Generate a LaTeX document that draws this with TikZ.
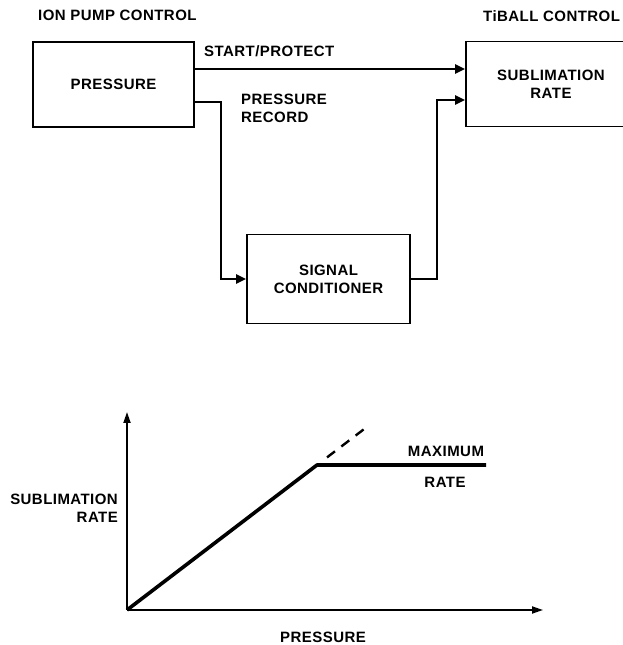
\documentclass[tikz,border=0pt]{standalone}
\usepackage{fontspec}
\setmainfont[LetterSpace=3]{Liberation Sans}
\usetikzlibrary{arrows.meta, positioning}

\begin{document}
\begin{tikzpicture}[x=1bp, y=1bp, >={Triangle[length=10bp, width=9bp]},
    font=\fontsize{15bp}{18bp}\selectfont\bfseries,
    block/.style={draw, line width=1.8bp, minimum width=161bp, minimum height=85bp, align=center, inner sep=0pt},
    wire/.style={->, line width=2.8bp},
    axis/.style={->, line width=1.8bp, >={Triangle[length=11bp, width=7bp]}},
    lbl/.style={inner sep=0pt, align=center}]
    \useasboundingbox (0,0) rectangle (623,645);

    % control loop
    \node[block] (p) at (113.5,560.5) {PRESSURE};
    \node[block, minimum width=170bp] (s) at (551,561) {SUBLIMATION\\RATE};
    \node[block, minimum width=163bp, minimum height=89bp] (c) at (328.5,366) {SIGNAL\\CONDITIONER};

    \node[lbl, anchor=west] (ipc) at (38,630) {ION PUMP CONTROL};
    \node[lbl, anchor=west] (tbc) at (483,629) {TiBALL CONTROL};
    \node[lbl, anchor=west] (sp) at (204,594) {START/PROTECT};
    \node[lbl, anchor=west, align=left] (pr) at (241,537) {PRESSURE\\RECORD};

    \draw[wire] ([yshift=15.5bp]p.east) -- ([yshift=15bp]s.west);
    \draw[wire] ([yshift=-17.5bp]p.east) -- ++(26,0) |- (c.west);
    \draw[wire] (c.east) -- ++(26,0) |- ([yshift=-16bp]s.west);

    % rate vs pressure
    \coordinate (o) at (127,35);
    \coordinate (ytop) at (127,233);
    \coordinate (xend) at (543,35);
    \coordinate (knee) at (317,180);
    \coordinate (plat) at (486,180);
    \coordinate (d1) at (327,187.6);
    \coordinate (d2) at (368,218.9);

    \draw[axis] (o) -- (ytop);
    \draw[axis] (o) -- (xend);
    \draw[line width=3.6bp, line join=round] (o) -- (knee) -- (plat);
    \draw[line width=2.4bp, dash pattern=on 10bp off 8bp] (d1) -- (d2);

    \node[lbl] (mx) at (446,194) {MAXIMUM};
    \node[lbl] (mr) at (445,163) {RATE};
    \node[lbl, anchor=east, align=right] (yl) at (118,137) {SUBLIMATION\\RATE};
    \node[lbl] (xl) at (323,8) {PRESSURE};
\end{tikzpicture}
\end{document}
